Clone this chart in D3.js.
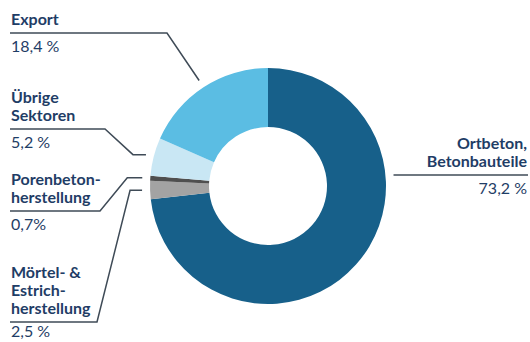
<!DOCTYPE html>
<html>
<head>
<meta charset="utf-8">
<script src="https://cdn.jsdelivr.net/npm/d3@7"></script>
<style>
  html, body { margin: 0; padding: 0; background: #fff; }
  svg { display: block; }
  .lbl { font-family: Lato, "Open Sans", sans-serif; font-size: 16px; fill: #1f3d66; }
  .lbl.b { font-weight: 700; }
</style>
</head>
<body>
<svg id="chart" width="530" height="342"></svg>
<script>
// Shares of cement use by sector (percent), clockwise from 12 o'clock
const categories = ["Ortbeton, Betonbauteile", "Mörtel- & Estrichherstellung", "Porenbetonherstellung", "Übrige Sektoren", "Export"];
const values = [73.2, 2.5, 0.7, 5.2, 18.4];
const valueLabels = ["73,2 %", "2,5 %", "0,7%", "5,2 %", "18,4 %"];
const nameLines = [["Ortbeton,", "Betonbauteile"], ["Mörtel- &", "Estrich-", "herstellung"], ["Porenbeton-", "herstellung"], ["Übrige", "Sektoren"], ["Export"]];
const colors = ["#17608a", "#a3a3a3", "#4f4f4f", "#c9e7f4", "#5bbde3"];

const svg = d3.select("#chart");
const cx = 268, cy = 186, rOuter = 118, rInner = 59, rAnchor = 126;

const pie = d3.pie().sort(null).value(d => d.value);
const arcs = pie(values.map((v, i) => ({ value: v, i })));
const arc = d3.arc().innerRadius(rInner).outerRadius(rOuter);

const g = svg.append("g").attr("transform", `translate(${cx},${cy})`);
g.selectAll("path.slice").data(arcs).enter().append("path")
  .attr("class", "slice")
  .attr("d", arc)
  .attr("fill", d => colors[d.data.i]);

// Leader layout per slice: underline y, underline end x, stub length at the ring,
// text side.
const layout = [
  { lineY: 175, side: "right" },
  { lineY: 322, lineEnd: 97, stub: 12, side: "left" },
  { lineY: 211, lineEnd: 100, stub: 15, side: "left" },
  { lineY: 129, lineEnd: 105, stub: 13, side: "left" },
  { lineY: 33, lineEnd: 167, stub: 0, side: "left" }
];

const lineColor = "#3f4b57";
const leftX = 10, rightX = 528;

arcs.forEach((a, k) => {
  const L = layout[k];
  let pts;
  if (L.side === "right") {
    // horizontal leader that meets the ring at the underline's height
    const dy = L.lineY - cy;
    const ax = cx + Math.sqrt(rAnchor * rAnchor - dy * dy);
    pts = [[ax, L.lineY], [rightX, L.lineY]];
  } else {
    const mid = (a.startAngle + a.endAngle) / 2;
    const ax = cx + rAnchor * Math.sin(mid);
    const ay = cy - rAnchor * Math.cos(mid);
    pts = [[leftX, L.lineY], [L.lineEnd, L.lineY]];
    if (L.stub > 0) pts.push([ax - L.stub, ay]);
    pts.push([ax, ay]);
  }
  svg.append("path")
    .attr("d", d3.line()(pts))
    .attr("fill", "none")
    .attr("stroke", lineColor)
    .attr("stroke-width", 1.5);

  const lines = nameLines[k];
  const anchor = L.side === "right" ? "end" : "start";
  const tx = L.side === "right" ? 527 : 11;
  const lastBase = L.lineY - 8;
  lines.forEach((t, j) => {
    svg.append("text")
      .attr("class", "lbl b")
      .attr("x", tx)
      .attr("y", lastBase - (lines.length - 1 - j) * 18)
      .attr("text-anchor", anchor)
      .text(t);
  });
  svg.append("text")
    .attr("class", "lbl")
    .attr("x", tx)
    .attr("y", Math.min(L.lineY + 19, 337))
    .attr("text-anchor", anchor)
    .text(valueLabels[k]);
});
</script>
</body>
</html>
